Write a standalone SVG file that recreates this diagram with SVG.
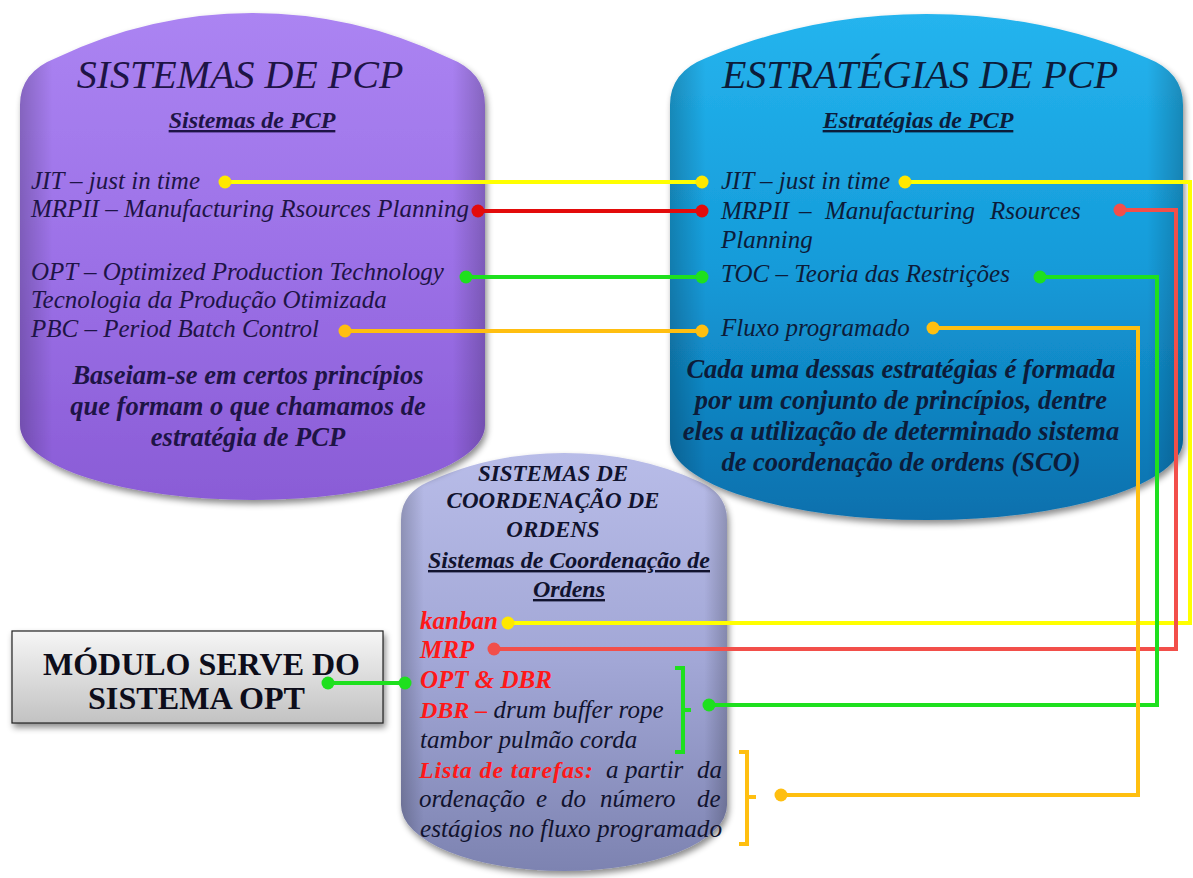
<svg xmlns="http://www.w3.org/2000/svg" width="1193" height="878" viewBox="0 0 1193 878">
  <defs>
    <linearGradient id="gPurple" x1="0" y1="0" x2="0" y2="1">
      <stop offset="0" stop-color="#ab84f2"/>
      <stop offset="0.5" stop-color="#9c71e7"/>
      <stop offset="1" stop-color="#8a5cd6"/>
    </linearGradient>
    <linearGradient id="gBlue" x1="0" y1="0" x2="0" y2="1">
      <stop offset="0" stop-color="#25b4ee"/>
      <stop offset="0.5" stop-color="#159bd9"/>
      <stop offset="1" stop-color="#0b70ad"/>
    </linearGradient>
    <linearGradient id="gGrey" x1="0" y1="0" x2="0" y2="1">
      <stop offset="0" stop-color="#b8bce8"/>
      <stop offset="0.5" stop-color="#a2a7d6"/>
      <stop offset="1" stop-color="#7d83b1"/>
    </linearGradient>
    <linearGradient id="gSide" x1="0" y1="0" x2="1" y2="0">
      <stop offset="0" stop-color="#000" stop-opacity="0.2"/>
      <stop offset="0.07" stop-color="#000" stop-opacity="0"/>
      <stop offset="0.93" stop-color="#000" stop-opacity="0"/>
      <stop offset="1" stop-color="#000" stop-opacity="0.2"/>
    </linearGradient>
    <linearGradient id="gBox" x1="0" y1="0" x2="0" y2="1">
      <stop offset="0" stop-color="#f6f6f6"/>
      <stop offset="1" stop-color="#c2c2c2"/>
    </linearGradient>
    <filter id="shadow" x="-5%" y="-5%" width="115%" height="120%">
      <feDropShadow dx="2" dy="4" stdDeviation="3" flood-color="#000" flood-opacity="0.45"/>
    </filter>
    <style>
      text { font-family: "Liberation Serif", "Times New Roman", serif; }
      .title { font-style: italic; font-size: 40px; }
      .sub { font-style: italic; font-weight: bold; font-size: 24px; text-decoration: underline; }
      .item { font-style: italic; font-size: 25px; }
      .para { font-style: italic; font-weight: bold; font-size: 26.5px; }
      .pTxt { fill: #1e1446; }
      .bTxt { fill: #0c1c3a; }
      .gTxt { fill: #11132e; }
      .red { fill: #ff1818; font-weight: bold; }
      .line { fill: none; stroke-width: 4; }
      .yel { stroke: #ffff00; }
      .yelF { fill: #ffe800; }
      .redA { stroke: #e30b0b; }
      .redAF { fill: #e30b0b; }
      .redB { stroke: #f24f4a; }
      .redBF { fill: #f24f4a; }
      .grn { stroke: #1ee01e; }
      .grnF { fill: #1ee01e; }
      .org { stroke: #ffbf10; }
      .orgF { fill: #ffbf10; }
    </style>
  </defs>

  <rect width="1193" height="878" fill="#ffffff"/>

  <!-- order coordination systems cylinder -->
  <g id="node-sco">
    <path d="M401,805 V520 Q401,494 428,482 Q490,453 564,453 Q638,453 700,482 Q727,494 727,520 V805 A163,66 0 0 1 401,805 Z" fill="url(#gGrey)" filter="url(#shadow)"/>
    <path d="M401,805 V520 Q401,494 428,482 Q490,453 564,453 Q638,453 700,482 Q727,494 727,520 V805 A163,66 0 0 1 401,805 Z" fill="url(#gSide)"/>
    <g class="gTxt" font-style="italic" font-weight="bold" font-size="23" text-anchor="middle">
      <text x="553" y="481">SISTEMAS DE</text>
      <text x="553" y="508">COORDENAÇÃO DE</text>
      <text x="553" y="537">ORDENS</text>
    </g>
    <text class="sub gTxt" x="569" y="568" text-anchor="middle" font-size="25">Sistemas de Coordenação de</text>
    <text class="sub gTxt" x="569" y="597" text-anchor="middle" font-size="25">Ordens</text>
    <text class="item red" x="420" y="629" font-size="24">kanban</text>
    <text class="item red" x="420" y="658" font-size="24">MRP</text>
    <text class="item red" x="420" y="688" font-size="24">OPT &amp; DBR</text>
    <text class="item gTxt" x="420" y="718"><tspan class="red" font-size="24">DBR –</tspan> drum buffer rope</text>
    <text class="item gTxt" x="420" y="748">tambor pulmão corda</text>
    <text class="item gTxt" y="778"><tspan class="red" x="419" font-size="24" textLength="174" lengthAdjust="spacing">Lista de tarefas:</tspan><tspan x="606">a</tspan><tspan x="625">partir</tspan><tspan x="697">da</tspan></text>
    <text class="item gTxt" y="807"><tspan x="419">ordenação</tspan><tspan x="536">e</tspan><tspan x="561">do</tspan><tspan x="600">número</tspan><tspan x="697">de</tspan></text>
    <text class="item gTxt" x="420" y="837" textLength="302" lengthAdjust="spacingAndGlyphs">estágios no fluxo programado</text>
  </g>

  <!-- PCP systems cylinder -->
  <g id="node-sistemas">
    <path d="M20,425 V105 Q20,72 56,58 Q150,13 252.5,13 Q355,13 449,58 Q485,72 485,105 V425 A232.5,75 0 0 1 20,425 Z" fill="url(#gPurple)" filter="url(#shadow)"/>
    <path d="M20,425 V105 Q20,72 56,58 Q150,13 252.5,13 Q355,13 449,58 Q485,72 485,105 V425 A232.5,75 0 0 1 20,425 Z" fill="url(#gSide)"/>
    <text class="title pTxt" x="240" y="88" text-anchor="middle">SISTEMAS DE PCP</text>
    <text class="sub pTxt" x="252" y="128" text-anchor="middle">Sistemas de PCP</text>
    <text class="item pTxt" x="31" y="189">JIT – just in time</text>
    <text class="item pTxt" x="31" y="217">MRPII – Manufacturing Rsources Planning</text>
    <text class="item pTxt" x="31" y="280">OPT – Optimized Production Technology</text>
    <text class="item pTxt" x="31" y="308">Tecnologia da Produção Otimizada</text>
    <text class="item pTxt" x="31" y="337">PBC – Period Batch Control</text>
    <g class="para pTxt" text-anchor="middle">
      <text x="248" y="384">Baseiam-se em certos princípios</text>
      <text x="248" y="415">que formam o que chamamos de</text>
      <text x="248" y="446">estratégia de PCP</text>
    </g>
  </g>

  <!-- PCP strategies cylinder -->
  <g id="node-estrategias">
    <path d="M670,440 V105 Q670,72 706,58 Q810,14 926.5,14 Q1043,14 1147,58 Q1183,72 1183,105 V440 A256.5,80 0 0 1 670,440 Z" fill="url(#gBlue)" filter="url(#shadow)"/>
    <path d="M670,440 V105 Q670,72 706,58 Q810,14 926.5,14 Q1043,14 1147,58 Q1183,72 1183,105 V440 A256.5,80 0 0 1 670,440 Z" fill="url(#gSide)"/>
    <text class="title bTxt" x="920" y="88" text-anchor="middle">ESTRATÉGIAS DE PCP</text>
    <text class="sub bTxt" x="918" y="128" text-anchor="middle">Estratégias de PCP</text>
    <text class="item bTxt" x="721" y="189">JIT – just in time</text>
    <text class="item bTxt" y="219"><tspan x="721">MRPII</tspan><tspan x="799">–</tspan><tspan x="825">Manufacturing</tspan><tspan x="990">Rsources</tspan></text>
    <text class="item bTxt" x="721" y="248">Planning</text>
    <text class="item bTxt" x="721" y="282">TOC – Teoria das Restrições</text>
    <text class="item bTxt" x="721" y="336">Fluxo programado</text>
    <g class="para bTxt" text-anchor="middle">
      <text x="901" y="378">Cada uma dessas estratégias é formada</text>
      <text x="901" y="409">por um conjunto de princípios, dentre</text>
      <text x="901" y="440">eles a utilização de determinado sistema</text>
      <text x="901" y="471">de coordenação de ordens (SCO)</text>
    </g>
  </g>

  <!-- OPT server module box -->
  <g id="node-modulo">
    <rect x="12" y="631" width="371" height="92" fill="url(#gBox)" stroke="#222" stroke-width="1.2" filter="url(#shadow)"/>
    <text x="43" y="675" font-weight="bold" font-size="32" fill="#0d0d1a" textLength="317" lengthAdjust="spacingAndGlyphs">MÓDULO SERVE DO</text>
    <text x="88" y="709" font-weight="bold" font-size="32" fill="#0d0d1a" textLength="217" lengthAdjust="spacingAndGlyphs">SISTEMA OPT</text>
  </g>

  <!-- connectors -->
  <g id="connectors">
    <!-- yellow: JIT -->
    <path class="line yel" d="M225,182 H702"/>
    <path class="line yel" d="M905,182 H1190 V623 H508"/>
    <circle class="yelF" cx="225" cy="182" r="6.5"/>
    <circle class="yelF" cx="702" cy="182" r="6.5"/>
    <circle class="yelF" cx="905" cy="182" r="6.5"/>
    <circle class="yelF" cx="508" cy="623" r="6.5"/>
    <!-- red: MRPII -->
    <path class="line redA" d="M478,211 H702"/>
    <circle class="redAF" cx="478" cy="211" r="6.5"/>
    <circle class="redAF" cx="702" cy="211" r="6.5"/>
    <path class="line redB" d="M1120,210 H1176 V649 H494"/>
    <circle class="redBF" cx="1120" cy="210" r="6.5"/>
    <circle class="redBF" cx="494" cy="649" r="6.5"/>
    <!-- green: OPT / TOC -->
    <path class="line grn" d="M466,277 H702"/>
    <circle class="grnF" cx="466" cy="277" r="6.5"/>
    <circle class="grnF" cx="702" cy="277" r="6.5"/>
    <path class="line grn" d="M1040,277 H1157 V705 H709"/>
    <circle class="grnF" cx="1040" cy="277" r="6.5"/>
    <circle class="grnF" cx="709" cy="705" r="6.5"/>
    <path class="line grn" stroke-width="3" d="M675,668 H683 V752 H675 M683,710 H691"/>
    <path class="line grn" d="M328,683 H405"/>
    <circle class="grnF" cx="328" cy="683" r="6.5"/>
    <circle class="grnF" cx="405" cy="683" r="6.5"/>
    <!-- orange: PBC / scheduled flow -->
    <path class="line org" d="M345,331 H702"/>
    <circle class="orgF" cx="345" cy="331" r="6.5"/>
    <circle class="orgF" cx="702" cy="331" r="6.5"/>
    <path class="line org" d="M933,328 H1138 V795 H781"/>
    <circle class="orgF" cx="933" cy="328" r="6.5"/>
    <circle class="orgF" cx="781" cy="795" r="6.5"/>
    <path class="line org" stroke-width="3" d="M739,752 H747 V844 H739 M747,797 H756"/>
  </g>
</svg>
